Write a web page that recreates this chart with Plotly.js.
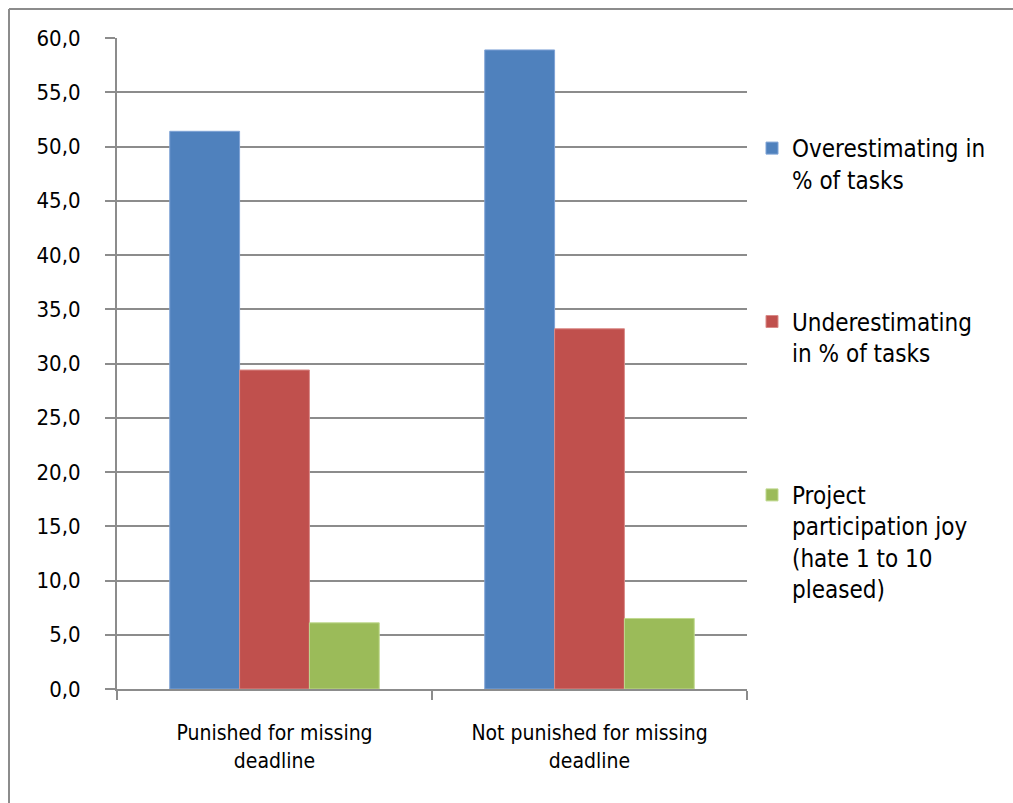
<!DOCTYPE html>
<html>
<head>
<meta charset="utf-8">
<script src="https://cdn.plot.ly/plotly-3.0.1.min.js"></script>
<style>html,body{margin:0;padding:0;background:#fff;}#chart{width:1013px;height:803px;}</style>
</head>
<body>
<div id="chart"></div>
<script>
var categories = ["Punished for missing<br>deadline", "Not punished for missing<br>deadline"];
var seriesNames = ["Overestimating in<br>% of tasks", "Underestimating<br>in % of tasks", "Project<br>participation joy<br>(hate 1 to 10<br>pleased)"];
var overestimating = [51.4, 58.9];
var underestimating = [29.4, 33.2];
var joy = [6.1, 6.5];
var colors = ["#4F81BD", "#C0504D", "#9BBB59"];
var lineColors = ["#7FA3D6", "#D98A88", "#C0D98F"];

var W = 1013, H = 803, L = 117, R = 747, T = 38, B = 689;
function px(x){ return (x - L) / (R - L); }
function py(y){ return (B - y) / (B - T); }

var series = [overestimating, underestimating, joy];
var font = "'DejaVu Sans Condensed', 'Liberation Sans Narrow', 'Roboto', sans-serif";
var traces = series.map(function(vals, i){
  return {
    type: "bar", x: categories, y: vals, name: seriesNames[i],
    legendgroup: "g" + i,
    marker: {color: colors[i], line: {color: lineColors[i], width: 1}},
    hoverinfo: "y"
  };
});

var layout = {
  width: W, height: H,
  margin: {l: L, r: W - R, t: T, b: H - B},
  paper_bgcolor: "#fff", plot_bgcolor: "#fff",
  separators: ",.",
  font: {family: font, size: 21, color: "#000"},
  barmode: "group", bargap: 0.335, bargroupgap: 0,
  showlegend: true,
  legend: {
    x: px(752), xanchor: "left", y: py(126), yanchor: "top",
    traceorder: "grouped", tracegroupgap: 108, valign: "top",
    font: {family: font, size: 24, color: "#000"},
    itemwidth: 30, bgcolor: "rgba(0,0,0,0)"
  },
  xaxis: {
    type: "category", showgrid: false, showline: true, linecolor: "#8c8c8c", linewidth: 2,
    ticks: "outside", tickson: "boundaries", ticklen: 9, tickwidth: 2, tickcolor: "#8c8c8c",
    tickfont: {family: font, size: 21, color: "#000"}, ticklabelstandoff: 24, tickangle: 0,
    fixedrange: true
  },
  yaxis: {
    range: [0, 60], dtick: 5, tick0: 0, tickformat: ".1f",
    showgrid: true, gridcolor: "#8c8c8c", gridwidth: 2,
    showline: true, linecolor: "#8c8c8c", linewidth: 2,
    ticks: "outside", ticklen: 10, tickwidth: 2, tickcolor: "#8c8c8c",
    tickfont: {family: font, size: 22, color: "#000"}, ticklabelstandoff: 20,
    zeroline: false, fixedrange: true
  },
  shapes: [
    {type: "line", xref: "paper", yref: "paper", x0: px(9), x1: px(1013), y0: py(9), y1: py(9), line: {color: "#8c8c8c", width: 2}},
    {type: "line", xref: "paper", yref: "paper", x0: px(9), x1: px(9), y0: py(9), y1: py(803), line: {color: "#8c8c8c", width: 2}}
  ]
};

Plotly.newPlot("chart", traces, layout, {displayModeBar: false, staticPlot: true});
</script>
</body>
</html>
